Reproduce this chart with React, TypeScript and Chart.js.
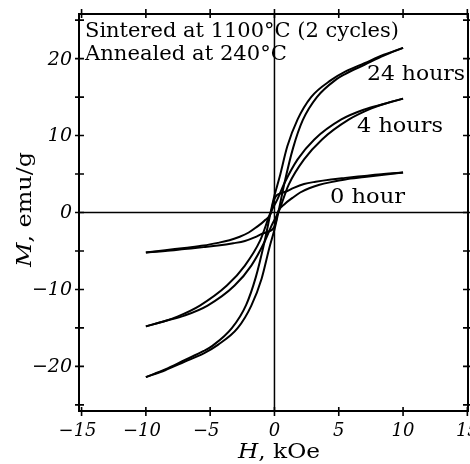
import React, { useEffect, useRef } from "react";
import { Chart, registerables } from "chart.js";

Chart.register(...registerables);

// Axis ticks
const xTicks = [-15, -10, -5, 0, 5, 10, 15];
const yTicks = [-25, -20, -15, -10, -5, 0, 5, 10, 15, 20, 25];
const yLabeled = [-20, -10, 0, 10, 20];

// 24 hours: descending (upper) branch, listed in ascending H
const h24UpperH = [-10, -8.5, -7, -5.5, -4.8, -3.3, -2.2, -1.45, -0.8, -0.3, 0, 0.4, 1.0, 1.8, 2.85, 4.4, 5.5, 7, 8.5, 10];
const h24UpperM = [-21.4, -20.4, -19.2, -18.0, -17.3, -15.0, -12.0, -8.4, -4.0, 0, 2.2, 4.6, 8.6, 12.1, 15.0, 17.2, 18.3, 19.4, 20.5, 21.4];
// 24 hours: ascending (lower) branch
const h24LowerH = [-10, -8.5, -7, -5.5, -4.4, -2.85, -1.8, -1.0, -0.4, 0, 0.3, 0.8, 1.45, 2.2, 3.3, 4.8, 5.5, 7, 8.5, 10];
const h24LowerM = [-21.4, -20.5, -19.4, -18.3, -17.2, -15.0, -12.1, -8.6, -4.6, -2.2, 0, 4.0, 8.4, 12.0, 15.0, 17.3, 18.0, 19.2, 20.4, 21.4];

// 4 hours
const h4UpperH = [-10, -8.5, -7.5, -5.8, -3.7, -2.3, -1.1, -0.3, 0.2, 0.8, 1.8, 3.1, 5.2, 7, 8.5, 10];
const h4UpperM = [-14.8, -14.1, -13.5, -12.1, -9.5, -6.9, -3.6, 0, 1.6, 3.9, 6.9, 9.5, 12.1, 13.4, 14.1, 14.8];
const h4LowerH = [-10, -8.5, -7, -5.2, -3.1, -1.8, -0.8, -0.2, 0.3, 1.1, 2.3, 3.7, 5.8, 7.5, 8.5, 10];
const h4LowerM = [-14.8, -14.1, -13.4, -12.1, -9.5, -6.9, -3.9, -1.6, 0, 3.6, 6.9, 9.5, 12.1, 13.5, 14.1, 14.8];

// 0 hour
const h0UpperH = [-10, -8.5, -7, -5.5, -4.4, -3.5, -2.7, -2.0, -1.4, -0.8, -0.26, -0.1, 0.1, 0.5, 1.0, 1.5, 2.3, 3.2, 4.4, 5.5, 7, 8.5, 10];
const h0UpperM = [-5.2, -4.9, -4.6, -4.3, -3.95, -3.6, -3.15, -2.6, -1.9, -1.1, 0, 1.3, 2.1, 2.5, 2.8, 3.2, 3.7, 4.0, 4.3, 4.5, 4.75, 5.0, 5.2];
const h0LowerH = [-10, -8.5, -7, -5.5, -4.4, -3.2, -2.3, -1.5, -1.0, -0.5, -0.1, 0.1, 0.26, 0.8, 1.4, 2.0, 2.7, 3.5, 4.4, 5.5, 7, 8.5, 10];
const h0LowerM = [-5.2, -5.0, -4.75, -4.5, -4.3, -4.0, -3.7, -3.2, -2.8, -2.5, -2.1, -1.3, 0, 1.1, 1.9, 2.6, 3.15, 3.6, 3.95, 4.3, 4.6, 4.9, 5.2];

const curveLabels = ["24 hours", "4 hours", "0 hour"];
const annotationLines = ["Sintered at 1100°C (2 cycles)", "Annealed at 240°C"];

const SERIF = '"DejaVu Serif", serif';

const toPts = (hs: number[], ms: number[]) => hs.map((h, i) => ({ x: h, y: ms[i] }));

type Part = { text: string; font: string };

function drawFit(ctx: CanvasRenderingContext2D, parts: Part[], x: number, y: number, width: number) {
  let total = 0;
  for (const p of parts) {
    ctx.font = p.font;
    total += ctx.measureText(p.text).width;
  }
  const sx = width / total;
  ctx.save();
  ctx.translate(x, y);
  ctx.scale(sx, 1);
  ctx.textAlign = "left";
  ctx.textBaseline = "alphabetic";
  let cx = 0;
  for (const p of parts) {
    ctx.font = p.font;
    ctx.fillText(p.text, cx, 0);
    cx += ctx.measureText(p.text).width;
  }
  ctx.restore();
}

const fmt = (v: number) => (v < 0 ? "\u2212" + Math.abs(v) : String(v));

const framePlugin = {
  id: "framePlugin",
  beforeDatasetsDraw(chart: any) {
    const { ctx, chartArea, scales } = chart;
    const { left, right, top, bottom } = chartArea;
    const x0 = scales.x.getPixelForValue(0);
    const y0 = scales.y.getPixelForValue(0);
    ctx.save();
    ctx.strokeStyle = "#000";
    ctx.lineWidth = 1.5;
    ctx.beginPath();
    ctx.moveTo(x0, top);
    ctx.lineTo(x0, bottom);
    ctx.moveTo(left, y0);
    ctx.lineTo(right, y0);
    ctx.stroke();
    ctx.restore();
  },
  afterDraw(chart: any) {
    const { ctx, chartArea, scales } = chart;
    const { left, right, top, bottom } = chartArea;
    ctx.save();
    ctx.strokeStyle = "#000";
    ctx.fillStyle = "#000";
    ctx.lineWidth = 2;
    ctx.strokeRect(left, top, right - left, bottom - top);
    ctx.lineWidth = 1.6;
    ctx.beginPath();
    for (const v of xTicks) {
      const px = scales.x.getPixelForValue(v);
      ctx.moveTo(px, bottom - 4);
      ctx.lineTo(px, bottom + 5);
      ctx.moveTo(px, top - 5);
      ctx.lineTo(px, top + 4);
    }
    for (const v of yTicks) {
      const py = scales.y.getPixelForValue(v);
      ctx.moveTo(left - 4, py);
      ctx.lineTo(left + 5, py);
      ctx.moveTo(right - 5, py);
      ctx.lineTo(right + 4, py);
    }
    ctx.stroke();

    // tick labels
    ctx.font = `italic 18px ${SERIF}`;
    ctx.textAlign = "center";
    ctx.textBaseline = "alphabetic";
    for (const v of xTicks) {
      const px = scales.x.getPixelForValue(v);
      ctx.fillText(fmt(v), px - (v < 0 ? 4 : 0), 436);
    }
    ctx.font = `italic 19px ${SERIF}`;
    ctx.textAlign = "right";
    ctx.textBaseline = "middle";
    for (const v of yLabeled) {
      const py = scales.y.getPixelForValue(v);
      ctx.fillText(fmt(v), 72, py + 1);
    }

    // annotations
    const reg = `20px ${SERIF}`;
    drawFit(ctx, [{ text: annotationLines[0], font: reg }], 85, 37, 314);
    drawFit(ctx, [{ text: annotationLines[1], font: reg }], 85, 60, 202);
    drawFit(ctx, [{ text: curveLabels[0], font: reg }], 367, 80, 98);
    drawFit(ctx, [{ text: curveLabels[1], font: reg }], 357, 132, 86);
    drawFit(ctx, [{ text: curveLabels[2], font: reg }], 330, 203, 75);

    // axis titles
    drawFit(
      ctx,
      [
        { text: "H", font: `italic 21px ${SERIF}` },
        { text: ", kOe", font: `21px ${SERIF}` },
      ],
      238,
      458,
      82
    );
    ctx.save();
    ctx.translate(31, 267);
    ctx.rotate(-Math.PI / 2);
    drawFit(
      ctx,
      [
        { text: "M", font: `italic 21px ${SERIF}` },
        { text: ", emu/g", font: `21px ${SERIF}` },
      ],
      0,
      0,
      115
    );
    ctx.restore();
    ctx.restore();
  },
};

const lineDs = (hs: number[], ms: number[]) => ({
  data: toPts(hs, ms),
  showLine: true,
  borderColor: "#000",
  borderWidth: 2,
  pointRadius: 0,
  fill: false,
  cubicInterpolationMode: "monotone" as const,
});

export default function App() {
  const ref = useRef<HTMLCanvasElement | null>(null);
  useEffect(() => {
    if (!ref.current) return;
    const chart = new Chart(ref.current, {
      type: "scatter",
      data: {
        datasets: [
          lineDs(h24UpperH, h24UpperM),
          lineDs(h24LowerH, h24LowerM),
          lineDs(h4UpperH, h4UpperM),
          lineDs(h4LowerH, h4LowerM),
          lineDs(h0UpperH, h0UpperM),
          lineDs(h0LowerH, h0LowerM),
        ],
      },
      options: {
        animation: false,
        responsive: false,
        layout: { padding: { top: 14, right: 2, left: 0, bottom: 0 } },
        plugins: { legend: { display: false }, tooltip: { enabled: false } },
        scales: {
          x: {
            type: "linear",
            min: -15.2,
            max: 15.05,
            ticks: { display: false },
            grid: { display: false },
            border: { display: false },
            afterFit: (s: any) => {
              s.height = 53;
            },
          },
          y: {
            type: "linear",
            min: -25.8,
            max: 25.8,
            ticks: { display: false },
            grid: { display: false },
            border: { display: false },
            afterFit: (s: any) => {
              s.width = 79;
            },
          },
        },
      },
      plugins: [framePlugin],
    });
    return () => chart.destroy();
  }, []);
  return (
    <div style={{ position: "fixed", left: 0, top: 0, width: 470, height: 464, background: "#fff" }}>
      <canvas ref={ref} width={470} height={464} />
    </div>
  );
}
